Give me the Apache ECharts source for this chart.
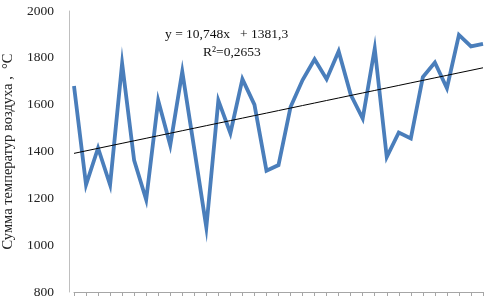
<!DOCTYPE html>
<html>
<head>
<meta charset="utf-8">
<script src="https://cdn.jsdelivr.net/npm/echarts@6/dist/echarts.min.js"></script>
<style>html,body{margin:0;padding:0;background:#fff}#c{width:490px;height:305px}</style>
</head>
<body>
<div id="c"></div>
<script>
// Data
const categories = Array.from({length: 35}, (_, i) => String(i + 1));
const tempSum = [1680, 1258, 1415, 1258, 1776, 1362, 1194, 1618, 1427, 1741, 1410, 1076, 1618, 1478, 1709, 1600, 1318, 1342, 1590, 1705, 1794, 1709, 1828, 1643, 1541, 1840, 1376, 1481, 1456, 1718, 1780, 1670, 1898, 1849, 1860];
const yTicks = [800, 1000, 1200, 1400, 1600, 1800, 2000];
// Linear trend shown on the chart: y = 10,748x + 1381,3
const trendSlope = 10.748;
const trendIntercept = 1381.3;
const trendValues = categories.map((c, i) => +(trendSlope * (i + 1) + trendIntercept).toFixed(1));
const equationText = 'y = 10,748x   + 1381,3';
const r2Text = 'R²=0,2653';

const chart = echarts.init(document.getElementById('c'));
chart.setOption({
  animation: false,
  grid: {left: 74, right: 7, top: 11, bottom: 13, containLabel: false, outerBoundsMode: 'none'},
  xAxis: {
    type: 'category',
    data: categories,
    boundaryGap: false,
    axisLine: {lineStyle: {color: '#a6a6a6', width: 1}},
    axisTick: {show: true, length: 4, interval: 0, lineStyle: {color: '#a6a6a6'}},
    axisLabel: {show: false},
    splitLine: {show: false}
  },
  yAxis: {
    type: 'value',
    min: yTicks[0],
    max: yTicks[yTicks.length - 1],
    interval: 200,
    offset: 5,
    name: 'Сумма температур воздуха ,  °С',
    nameLocation: 'middle',
    nameRotate: 90,
    nameGap: 49,
    nameTextStyle: {fontFamily: 'Liberation Serif', fontSize: 14.5, color: '#222'},
    axisLine: {show: true, lineStyle: {color: '#bfbfbf', width: 1}},
    axisTick: {show: false},
    axisLabel: {fontFamily: 'Liberation Serif', fontSize: 13.5, color: '#222', margin: 15, formatter: v => String(v)},
    splitLine: {show: false}
  },
  series: [
    {
      type: 'line',
      data: tempSum,
      showSymbol: false,
      lineStyle: {color: '#4a7ebb', width: 3.8, join: 'miter'},
      z: 2
    },
    {
      type: 'line',
      data: trendValues,
      showSymbol: false,
      lineStyle: {color: '#000', width: 1},
      z: 3
    }
  ],
  graphic: [
    {type: 'text', left: 165, top: 27, style: {text: equationText, font: '13.5px "Liberation Serif"', fill: '#111'}},
    {type: 'text', left: 203, top: 45, style: {text: r2Text, font: '13.5px "Liberation Serif"', fill: '#111'}}
  ]
});
</script>
</body>
</html>
